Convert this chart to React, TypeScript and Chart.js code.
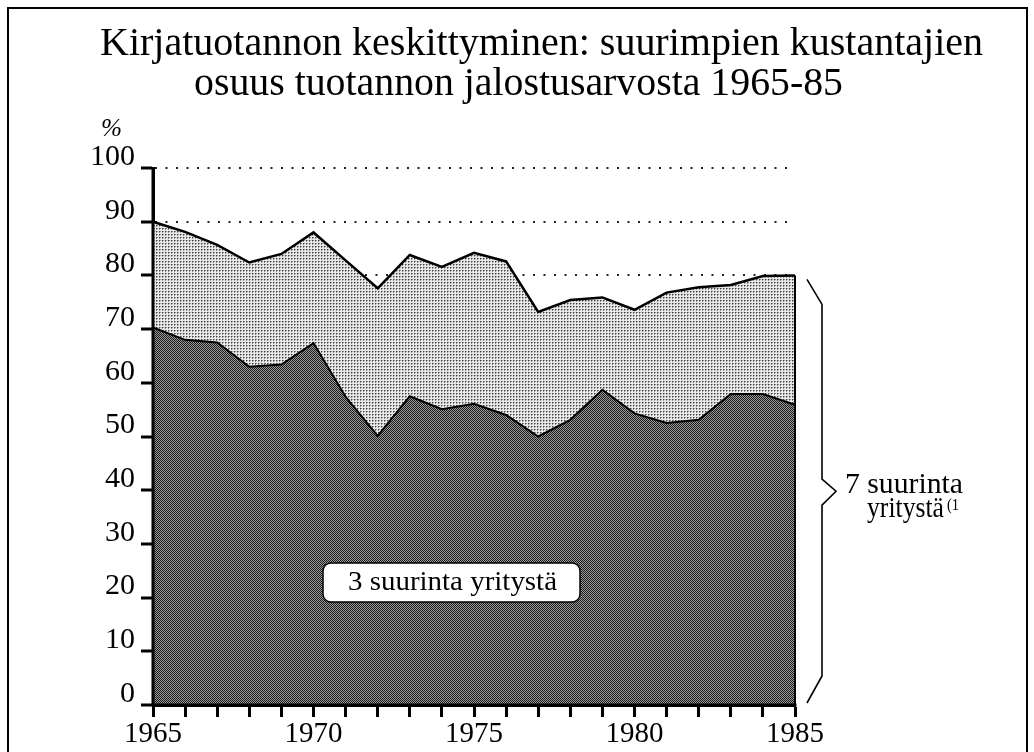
import React, { useEffect, useRef } from 'react';
import { Chart, registerables } from 'chart.js';

Chart.register(...registerables);

// ---- Data ----
const YEARS = [
  '1965', '1966', '1967', '1968', '1969', '1970', '1971', '1972', '1973', '1974',
  '1975', '1976', '1977', '1978', '1979', '1980', '1981', '1982', '1983', '1984', '1985',
];
// share of the 3 largest publishers (%)
const TOP3 = [70.3, 68.0, 67.5, 63.0, 63.4, 67.4, 57.4, 50.1, 57.5, 55.1, 56.1, 54.0, 50.0, 53.1, 58.7, 54.3, 52.5, 53.1, 57.9, 57.9, 55.9];
// share of the 7 largest publishers (%)
const TOP7 = [90.0, 88.1, 85.7, 82.4, 84.0, 88.0, 82.8, 77.6, 83.8, 81.6, 84.2, 82.6, 73.2, 75.4, 75.9, 73.6, 76.8, 77.8, 78.2, 79.9, 80.0];
const Y_MIN = 0;
const Y_MAX = 100;
const Y_STEP = 10;
const X_LABEL_EVERY = 5;

const TITLE_LINES = [
  'Kirjatuotannon keskittyminen: suurimpien kustantajien',
  'osuus tuotannon jalostusarvosta 1965-85',
];
const Y_UNIT = '%';
const LABEL_TOP3 = '3 suurinta yritystä';
const LABEL_TOP7 = ['7 suurinta', 'yritystä'];
const FOOTNOTE = '(1';

const FONT = '"Liberation Serif", "Times New Roman", serif';

function makePattern(
  ctx: CanvasRenderingContext2D,
  size: number,
  bg: string,
  cells: [number, number, number, number, string][],
) {
  const c = document.createElement('canvas');
  c.width = size;
  c.height = size;
  const g = c.getContext('2d')!;
  g.fillStyle = bg;
  g.fillRect(0, 0, size, size);
  cells.forEach(([x, y, w, h, col]) => {
    g.fillStyle = col;
    g.fillRect(x, y, w, h);
  });
  return ctx.createPattern(c, 'repeat')!;
}

function drawFitted(ctx: CanvasRenderingContext2D, text: string, x: number, y: number, width: number) {
  const w = ctx.measureText(text).width;
  ctx.save();
  ctx.translate(x, y);
  ctx.scale(width / w, 1);
  ctx.textAlign = 'left';
  ctx.fillText(text, 0, 0);
  ctx.restore();
}

const decorPlugin = {
  id: 'decor',
  afterDatasetsDraw(chart: any) {
    const { ctx, chartArea, scales } = chart;
    const x = scales.x;
    const y = scales.y;
    ctx.save();
    ctx.strokeStyle = '#000';
    // right edge of the filled area at the last year
    const xr = x.getPixelForValue(YEARS.length - 1);
    ctx.lineWidth = 2;
    ctx.beginPath();
    ctx.moveTo(xr, y.getPixelForValue(TOP7[TOP7.length - 1]));
    ctx.lineTo(xr, y.getPixelForValue(0));
    ctx.stroke();
    // axis lines on top of the fill
    ctx.lineWidth = 3;
    ctx.beginPath();
    ctx.moveTo(chartArea.left, chartArea.top);
    ctx.lineTo(chartArea.left, chartArea.bottom);
    ctx.lineTo(chartArea.right + 1.5, chartArea.bottom);
    ctx.stroke();
    ctx.restore();
  },
  afterDraw(chart: any) {
    const { ctx, scales } = chart;
    const y = scales.y;
    ctx.save();
    ctx.fillStyle = '#000';
    ctx.strokeStyle = '#000';

    // frame
    ctx.lineWidth = 2;
    ctx.beginPath();
    ctx.moveTo(8, 752);
    ctx.lineTo(8, 8);
    ctx.lineTo(1027, 8);
    ctx.lineTo(1027, 752);
    ctx.stroke();

    // title
    ctx.textBaseline = 'alphabetic';
    ctx.font = `40px ${FONT}`;
    drawFitted(ctx, TITLE_LINES[0], 100, 55, 883);
    drawFitted(ctx, TITLE_LINES[1], 194, 95, 649);

    // unit
    ctx.font = `italic 26px ${FONT}`;
    drawFitted(ctx, Y_UNIT, 101, 136, 21);

    // brace for the 7 largest
    const yTop = y.getPixelForValue(80) + 4;
    const yBot = y.getPixelForValue(0) - 2;
    const yMid = (yTop + yBot) / 2;
    ctx.lineWidth = 1.6;
    ctx.beginPath();
    ctx.moveTo(807, yTop);
    ctx.lineTo(822, yTop + 25);
    ctx.lineTo(822, yMid - 12);
    ctx.lineTo(836, yMid);
    ctx.lineTo(822, yMid + 14);
    ctx.lineTo(822, yBot - 27);
    ctx.lineTo(807, yBot);
    ctx.stroke();

    ctx.font = `29px ${FONT}`;
    drawFitted(ctx, LABEL_TOP7[0], 845, 493, 118);
    drawFitted(ctx, LABEL_TOP7[1], 867, 517, 77);
    ctx.font = `17px ${FONT}`;
    drawFitted(ctx, FOOTNOTE, 947, 510, 12);

    // label box for the 3 largest
    const bx = 323, by = 563, bw = 257, bh = 39, r = 8;
    ctx.beginPath();
    ctx.moveTo(bx + r, by);
    ctx.arcTo(bx + bw, by, bx + bw, by + bh, r);
    ctx.arcTo(bx + bw, by + bh, bx, by + bh, r);
    ctx.arcTo(bx, by + bh, bx, by, r);
    ctx.arcTo(bx, by, bx + bw, by, r);
    ctx.closePath();
    ctx.fillStyle = '#fff';
    ctx.fill();
    ctx.lineWidth = 1.5;
    ctx.stroke();
    ctx.fillStyle = '#000';
    ctx.font = `27px ${FONT}`;
    drawFitted(ctx, LABEL_TOP3, 348, 590, 209);

    ctx.restore();
  },
};

export default function App() {
  const canvasRef = useRef<HTMLCanvasElement | null>(null);

  useEffect(() => {
    const canvas = canvasRef.current!;
    const ctx = canvas.getContext('2d')!;
    const dark = makePattern(ctx, 2, '#9a9a9a', [[0, 0, 1, 1, '#1a1a1a'], [1, 1, 1, 1, '#1a1a1a']]);
    const light = makePattern(ctx, 3, '#e8e8e8', [
      [0, 0, 1, 1, '#404040'],
      [1, 0, 1, 1, '#909090'],
      [0, 1, 1, 1, '#909090'],
    ]);

    const chart = new Chart(ctx, {
      type: 'line',
      data: {
        labels: YEARS,
        datasets: [
          {
            label: LABEL_TOP3,
            data: TOP3,
            fill: 'origin',
            backgroundColor: dark,
            borderColor: '#000',
            borderWidth: 2,
            pointRadius: 0,
            tension: 0,
          },
          {
            label: LABEL_TOP7.join(' '),
            data: TOP7,
            fill: '-1',
            backgroundColor: light,
            borderColor: '#000',
            borderWidth: 2.5,
            pointRadius: 0,
            tension: 0,
          },
        ],
      },
      options: {
        responsive: false,
        animation: false,
        devicePixelRatio: 1,
        layout: { padding: { left: 0, top: 168, right: 239, bottom: 0 } },
        plugins: {
          legend: { display: false },
          title: { display: false },
          tooltip: { enabled: false },
        },
        scales: {
          x: {
            type: 'category',
            offset: false,
            afterFit: (s: any) => { s.height = 47; },
            grid: {
              display: true,
              drawOnChartArea: false,
              drawTicks: true,
              tickLength: 12,
              tickWidth: 3,
              tickColor: '#000',
            },
            border: { display: true, color: '#000', width: 3 },
            ticks: {
              autoSkip: false,
              maxRotation: 0,
              padding: 0,
              color: '#000',
              font: { family: FONT, size: 29 },
              callback: (_v: any, i: number) => (i % X_LABEL_EVERY === 0 ? YEARS[i] : ''),
            },
          },
          y: {
            min: Y_MIN,
            max: Y_MAX,
            afterFit: (s: any) => { s.width = 153; },
            grid: {
              display: true,
              drawOnChartArea: true,
              drawTicks: true,
              tickLength: 12,
              tickWidth: 3,
              tickColor: '#000',
              tickBorderDash: [],
              color: '#222',
              lineWidth: 2,
            },
            border: { display: true, color: '#000', width: 3, dash: [2, 8.5] },
            ticks: {
              stepSize: Y_STEP,
              padding: 6,
              labelOffset: -11,
              color: '#000',
              font: { family: FONT, size: 30 },
            },
          },
        },
      },
      plugins: [decorPlugin],
    });
    return () => chart.destroy();
  }, []);

  return (
    <div style={{ position: 'absolute', left: 0, top: 0, width: 1034, height: 752, background: '#fff' }}>
      <canvas ref={canvasRef} width={1034} height={752} style={{ display: 'block' }} />
    </div>
  );
}
